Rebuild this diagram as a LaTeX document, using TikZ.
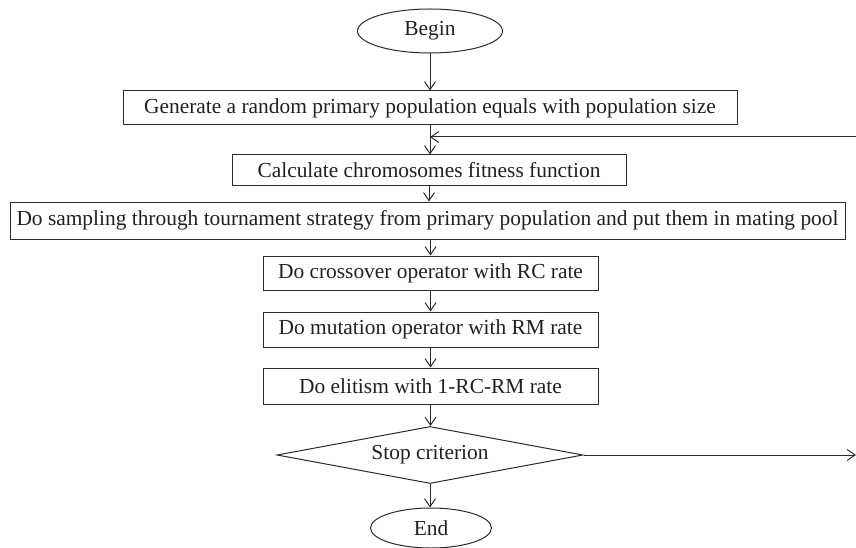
\documentclass[tikz,border=0pt]{standalone}
\usepackage{fontspec}
\setmainfont{Liberation Serif}
\usetikzlibrary{arrows.meta, positioning, shapes.geometric}
\definecolor{cline}{HTML}{2B2B2B}
\definecolor{ctext}{HTML}{231F20}
\tikzset{
  every picture/.style={line width=1pt, font=\fontsize{21.4}{25}\selectfont, text=ctext},
  box/.style={draw=cline, rectangle, inner sep=0pt, minimum width=#1, align=center},
  box/.default=335pt,
  term/.style={draw=cline, ellipse, inner sep=0pt, minimum width=#1, minimum height=42pt},
  decision/.style={draw=cline, diamond, inner sep=0pt, shape aspect=5.37, minimum width=306pt, minimum height=57pt},
  arrow/.style={-{Straight Barb[length=8pt, width=11pt]}, draw=cline},
}

\begin{document}
\begin{tikzpicture}[x=1pt, y=-1pt]
  \useasboundingbox (0,0) rectangle (856,548);
  % main column
  \node[term=145pt, minimum height=44pt] (begin) at (430,31) {Begin};
  \node[box=614pt, minimum height=34pt] (gen) at (430,108) {Generate a random primary population equals with population size};
  \node[box=394pt, minimum height=31pt] (fit) at (429,170.5) {Calculate chromosomes fitness function};
  \node[box=835pt, minimum height=37pt] (samp) at (427.5,220.5) {Do sampling through tournament strategy from primary population and put them in mating pool};
  \node[box, minimum height=34pt] (cross) at (430.5,273) {Do crossover operator with RC rate};
  \node[box, minimum height=35pt] (mut) at (430.5,329.5) {Do mutation operator with RM rate};
  \node[box, minimum height=36pt] (elit) at (430.5,386) {Do elitism with 1-RC-RM rate};
  \node[decision] (stop) at (430,455) {Stop criterion};
  \node[term=121pt, minimum height=40pt] (end) at (431,528) {End};
  % loop ends
  \coordinate (join) at (gen.south |- 0,137);
  \coordinate (rt) at (856,455);
  \coordinate (lp) at (856,137);

  \draw[arrow] (begin) -- (gen);
  \draw[arrow] (gen) -- (gen.south |- fit.north);
  \draw[arrow] (fit) -- (fit.south |- samp.north);
  \draw[arrow] (cross.north |- samp.south) -- (cross);
  \draw[arrow] (cross) -- (mut);
  \draw[arrow] (mut) -- (elit);
  \draw[arrow] (elit) -- (elit.south |- stop.north);
  \draw[arrow] (stop.south) -- (stop.south |- end.north);
  \draw[arrow] (stop.east) -- (rt);
  \draw[arrow] (lp) -- (join);
\end{tikzpicture}
\end{document}
